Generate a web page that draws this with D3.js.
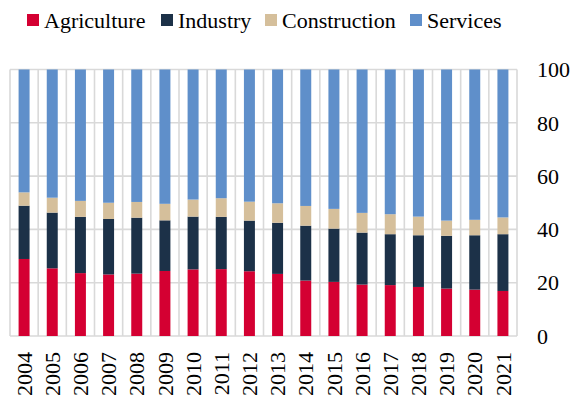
<!DOCTYPE html>
<html>
<head>
<meta charset="utf-8">
<script src="https://cdn.jsdelivr.net/npm/d3@7"></script>
<style>
  body { margin: 0; background: #fff; }
  svg { display: block; font-family: "Liberation Serif", "Times New Roman", serif; }
</style>
</head>
<body>
<svg id="viz" width="575" height="405"></svg>
<script>
// data, shares of employment (%)
var years = ["2004","2005","2006","2007","2008","2009","2010","2011","2012","2013",
             "2014","2015","2016","2017","2018","2019","2020","2021"];
var agriculture  = [28.9, 25.4, 23.6, 23.1, 23.4, 24.4, 25.0, 25.1, 24.3, 23.3, 20.8, 20.3, 19.3, 19.1, 18.4, 17.8, 17.4, 16.9];
var industry     = [20.0, 20.9, 21.1, 20.8, 21.0, 19.0, 19.8, 19.6, 19.0, 19.2, 20.6, 20.0, 19.5, 19.1, 19.4, 19.8, 20.4, 21.3];
var construction = [ 5.0,  5.6,  6.0,  6.1,  5.9,  6.2,  6.4,  7.0,  7.1,  7.3,  7.4,  7.4,  7.4,  7.5,  7.0,  5.7,  5.8,  6.3];
var services = years.map((y, i) => 100 - agriculture[i] - industry[i] - construction[i]);
var yTicks = [0, 20, 40, 60, 80, 100];

var seriesNames = ["Agriculture", "Industry", "Construction", "Services"];
var colors = ["#d40032", "#1c3148", "#d5bf9b", "#5f8fca"];

var table = years.map((y, i) => ({
    year: y,
    Agriculture: agriculture[i],
    Industry: industry[i],
    Construction: construction[i],
    Services: services[i]
}));

var svg = d3.select("#viz");
var plotLeft = 10, plotRight = 517, plotTop = 69.5, plotBottom = 336;

var xBand = d3.scaleBand()
    .domain(years)
    .range([plotLeft, plotRight])
    .paddingInner(0)
    .paddingOuter(0);

var yScale = d3.scaleLinear()
    .domain([0, 100])
    .range([plotBottom, plotTop]);

var barW = xBand.bandwidth() * 0.39;

// grid
var grid = svg.append("g").attr("stroke", "#d9d9d9").attr("stroke-width", 1.6);
grid.selectAll("line.h")
    .data(yTicks)
    .enter().append("line")
    .attr("x1", plotLeft).attr("x2", plotRight)
    .attr("y1", d => yScale(d)).attr("y2", d => yScale(d));
grid.selectAll("line.v")
    .data(years.concat(["end"]))
    .enter().append("line")
    .attr("x1", (d, i) => i < years.length ? xBand(d) : plotRight)
    .attr("x2", (d, i) => i < years.length ? xBand(d) : plotRight)
    .attr("y1", plotTop).attr("y2", plotBottom);

// stacked bars
var stack = d3.stack().keys(seriesNames)(table);
svg.append("g").selectAll("g")
    .data(stack)
    .enter().append("g")
    .attr("fill", (d, i) => colors[i])
    .selectAll("rect")
    .data(d => d)
    .enter().append("rect")
    .attr("x", d => xBand(d.data.year) + (xBand.bandwidth() - barW) / 2)
    .attr("width", barW)
    .attr("y", d => yScale(d[1]))
    .attr("height", d => yScale(d[0]) - yScale(d[1]));

// right axis labels
svg.append("g").selectAll("text")
    .data(yTicks)
    .enter().append("text")
    .attr("x", 537)
    .attr("y", d => yScale(d))
    .attr("dy", "0.35em")
    .attr("font-size", 22)
    .attr("fill", "#000")
    .text(d => d);

// year labels, rotated
svg.append("g").selectAll("text")
    .data(years)
    .enter().append("text")
    .attr("transform", d => "translate(" + (xBand(d) + xBand.bandwidth() / 2) + ",352) rotate(-90)")
    .attr("dy", "0.35em")
    .attr("text-anchor", "end")
    .attr("font-size", 22)
    .attr("fill", "#000")
    .text(d => d);

// legend
var legendX = [27, 161, 265, 410];
var legend = svg.append("g").selectAll("g")
    .data(seriesNames)
    .enter().append("g")
    .attr("transform", (d, i) => "translate(" + legendX[i] + ",14)");
legend.append("rect")
    .attr("width", 12).attr("height", 12)
    .attr("fill", (d, i) => colors[i]);
legend.append("text")
    .attr("x", 17).attr("y", 6)
    .attr("dy", "0.35em")
    .attr("font-size", 22)
    .attr("fill", "#000")
    .text(d => d);
</script>
</body>
</html>
